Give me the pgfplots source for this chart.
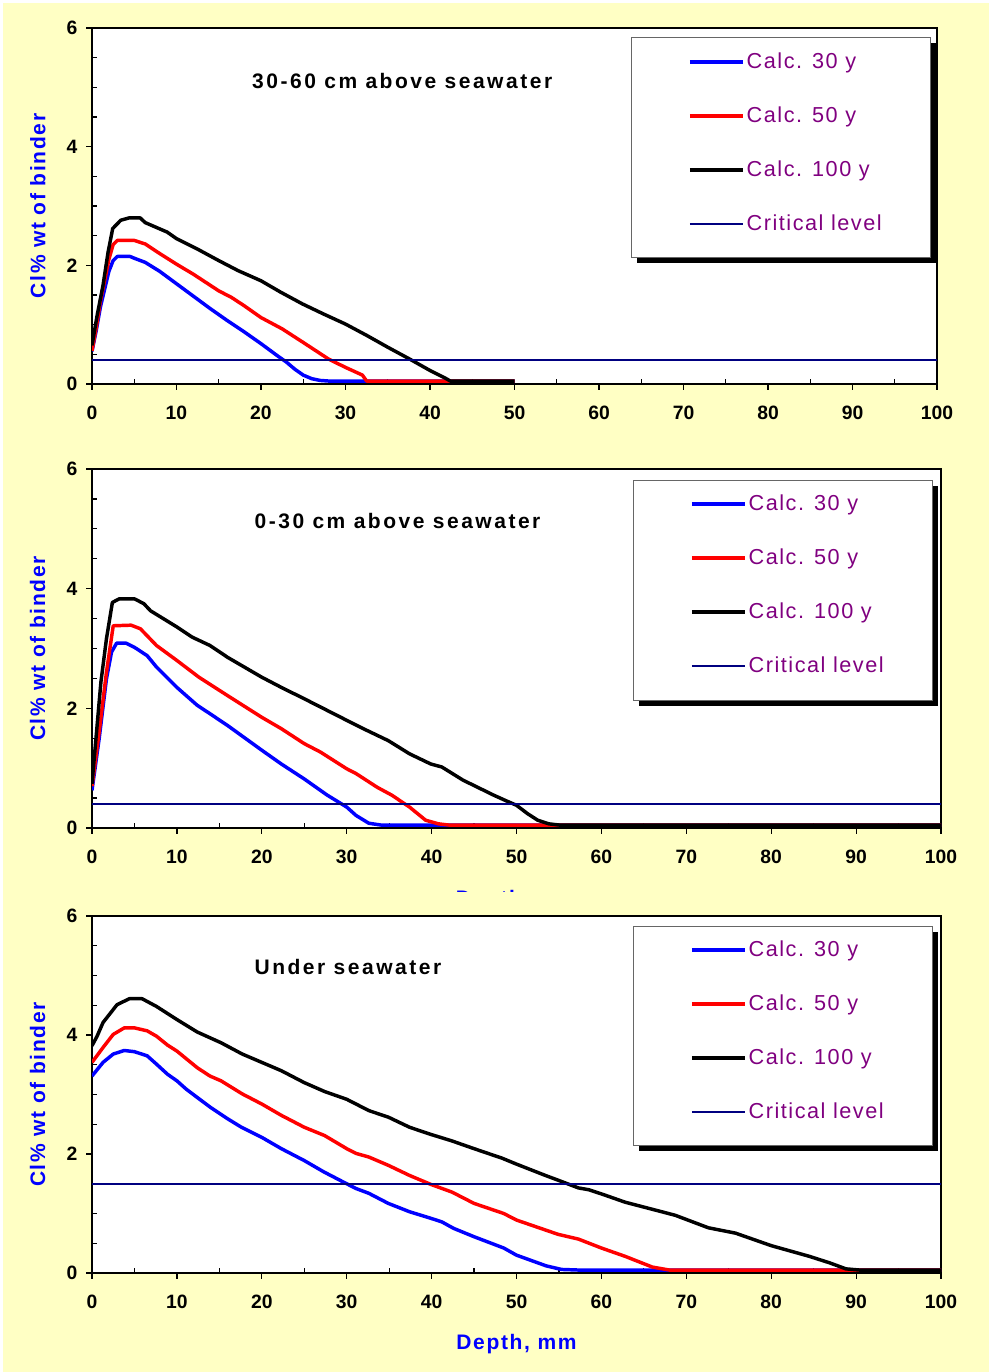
\documentclass[border=0pt]{standalone}
\usepackage{fontspec}
\setmainfont{Liberation Sans}
\usepackage{pgfplots}
\pgfplotsset{compat=1.18}
\definecolor{bgyellow}{RGB}{255,255,196}
\definecolor{critnavy}{RGB}{0,0,128}
\definecolor{legpurple}{RGB}{128,0,128}
\newcommand{\tickfont}{\bfseries\fontsize{14.5}{14.5}\selectfont}
\newcommand{\titlefont}{\bfseries\fontsize{15.75}{16}\selectfont\addfontfeature{LetterSpace=12}}
\newcommand{\labfont}{\bfseries\fontsize{15.75}{16}\selectfont\addfontfeature{LetterSpace=8}}
\newcommand{\legfont}{\fontsize{16.25}{16.25}\selectfont\addfontfeature{LetterSpace=7}}
% legend frame with black shadow: offsets (pt) from the axis' top-left corner
\newcommand{\legbox}[4]{%
  \fill[black] ([xshift=#1+4.5pt, yshift=-#2-4.5pt]rel axis cs:0,1) rectangle ([xshift=#3+4.5pt, yshift=-#4-4.5pt]rel axis cs:0,1);
  \filldraw[draw=black!60, fill=white, line width=0.75pt] ([xshift=#1, yshift=-#2]rel axis cs:0,1) rectangle ([xshift=#3, yshift=-#4]rel axis cs:0,1);}
\pgfplotsset{
  panel/.style={
    scale only axis,
    xmin=0, xmax=100, ymin=0, ymax=6,
    xtick={0,10,...,100}, ytick={0,2,4,6},
    minor x tick num=1, minor y tick num=3,
    xtick pos=left, ytick pos=left,
    tick align=inside, major tick length=-4.5pt, minor tick length=3.5pt,
    tick style={black, line width=0.9pt},
    axis line style={line width=1.2pt},
    axis background/.style={fill=white},
    /pgf/number format/assume math mode=true,
    ticklabel style={font=\tickfont},
    xticklabel style={yshift=-13pt},
    yticklabel style={xshift=-7.5pt},
    ylabel={Cl\% wt of binder},
    ylabel style={font=\labfont, color=blue, at={(axis description cs:-0.064,0.5)}, anchor=center},
    legend style={anchor=north west, draw=none, fill=none,
      font=\legfont, text=legpurple,
      inner sep=0pt, row sep=25pt, column sep=1.5pt,
      nodes={text height=12pt, text depth=3.5pt, inner sep=0pt}},
    legend cell align=left,
    legend image code/.code={\draw[##1, line cap=butt] (0pt,1pt) -- (39.75pt,1pt);},
    every axis plot/.append style={line join=round, no markers},
  },
  c30/.style={blue, line width=2.6pt},
  c50/.style={red, line width=2.6pt},
  c100/.style={black, line width=2.6pt},
  crit/.style={critnavy, line width=1.2pt},
}
\begin{document}
\begin{tikzpicture}
\fill[bgyellow] (0,0) rectangle (741.75pt,-1029pt);
\fill[white] (0,0) rectangle (2.25pt,-1029pt);
\fill[white] (0,0) rectangle (741.75pt,-2.25pt);

% ---------------- Panel 1 ----------------
\begin{axis}[panel, at={(69pt,-288pt)}, anchor=south west, width=633.75pt, height=267pt,
  legend style={at={(axis description cs:0.7053,0.931)}}]
\addplot[c30] coordinates {(0,0.55)(0.5,0.9)(1,1.3)(1.5,1.6)(2,1.9)(2.5,2.08)(3,2.15)(4.5,2.15)(5,2.12)(6.3,2.05)(8,1.9)(10,1.69)(12,1.48)(14,1.27)(16,1.07)(18,0.88)(20,0.68)(22,0.47)(23,0.37)(24,0.25)(25,0.15)(26,0.09)(27,0.06)(28,0.05)(50,0.05)};
\addlegendentry{Calc. 30 y}
\addplot[c50] coordinates {(0,0.56)(0.5,0.95)(1,1.4)(1.5,1.75)(2,2.1)(2.5,2.35)(3,2.42)(5,2.42)(6.3,2.36)(8,2.2)(10,2.02)(12,1.85)(15,1.57)(16.5,1.46)(18,1.32)(20,1.12)(22.5,0.93)(25,0.70)(28,0.42)(30,0.28)(32,0.15)(32.5,0.05)(50,0.05)};
\addlegendentry{Calc. 50 y}
\addplot[c100] coordinates {(0,0.65)(0.6,1.15)(1.3,1.66)(1.9,2.22)(2.45,2.62)(3.4,2.76)(4.4,2.8)(5.7,2.8)(6.3,2.72)(8.9,2.56)(10,2.45)(12.4,2.28)(15,2.08)(17.3,1.91)(20,1.74)(22.3,1.55)(24.9,1.35)(27.4,1.18)(30,1.01)(32.5,0.82)(35,0.62)(37.6,0.42)(40.1,0.22)(41.8,0.1)(42.4,0.05)(50,0.05)};
\addlegendentry{Calc. 100 y}
\addplot[crit] coordinates {(0,0.4)(100,0.4)};
\addlegendentry{Critical level}
\legbox{404.25pt}{6.75pt}{628.5pt}{171.75pt}
\node[anchor=west, font=\titlefont] at (axis cs:18.4,5.1) {30-60 cm above seawater};
\end{axis}

% fragment of the cut-off x label of panel 2
\begin{scope}
\clip (0pt,-655pt) rectangle (741.75pt,-668.25pt);
\node[font=\labfont, text=blue] at (387pt,-675.4pt) {Depth, mm};
\end{scope}

% ---------------- Panel 2 ----------------
\begin{axis}[panel, at={(69pt,-621pt)}, anchor=south west, width=636.75pt, height=269.25pt,
  legend style={at={(axis description cs:0.7043,0.9287)}}]
\addplot[c30] coordinates {(0,0.63)(0.84,1.49)(1.7,2.49)(2.3,2.94)(2.9,3.09)(4,3.09)(5,3.02)(6.5,2.88)(7.6,2.69)(10,2.35)(12.4,2.05)(13.9,1.91)(16,1.71)(20,1.30)(22.3,1.07)(25,0.82)(27.7,0.55)(30,0.35)(31.1,0.21)(32.6,0.08)(34,0.05)(100,0.05)};
\addlegendentry{Calc. 30 y}
\addplot[c50] coordinates {(0,0.7)(0.84,1.6)(1.7,2.6)(2.5,3.38)(4.6,3.39)(5.7,3.33)(7.6,3.05)(10,2.8)(12.6,2.52)(16,2.21)(20,1.85)(22.3,1.66)(25,1.41)(26.9,1.27)(30,0.99)(31.1,0.91)(33.6,0.68)(35.3,0.55)(37.4,0.35)(39.3,0.13)(40.8,0.07)(42,0.05)(100,0.05)};
\addlegendentry{Calc. 50 y}
\addplot[c100] coordinates {(0,0.74)(1.05,2.44)(1.7,3.16)(2.4,3.77)(3.2,3.83)(5,3.83)(6.1,3.75)(6.9,3.63)(10,3.36)(11.8,3.19)(13.9,3.05)(16,2.85)(20,2.52)(22.3,2.35)(25,2.16)(30,1.80)(32.4,1.63)(34.9,1.46)(37.4,1.24)(39.9,1.07)(41.2,1.02)(43.7,0.80)(47.3,0.55)(48.7,0.46)(50,0.38)(51.3,0.24)(52.5,0.13)(53.8,0.07)(55,0.05)(100,0.05)};
\addlegendentry{Calc. 100 y}
\addplot[crit] coordinates {(0,0.4)(100,0.4)};
\addlegendentry{Critical level}
\legbox{405.75pt}{8.25pt}{630pt}{173.25pt}
\node[anchor=west, font=\titlefont] at (axis cs:18.6,5.13) {0-30 cm above seawater};
\end{axis}

% ---------------- Panel 3 ----------------
\begin{axis}[panel, at={(69pt,-954.75pt)}, anchor=south west, width=636.75pt, height=267.75pt,
  legend style={at={(axis description cs:0.7043,0.931)}},
  xlabel={Depth, mm},
  xlabel style={font=\labfont, color=blue, at={(axis description cs:0.5,-0.2)}, anchor=center}]
\addplot[c30] coordinates {(0,3.31)(1.3,3.54)(2.5,3.68)(3.8,3.74)(5,3.72)(6.5,3.65)(7.6,3.51)(8.9,3.34)(10,3.23)(11.1,3.09)(12.4,2.95)(13.9,2.79)(16,2.59)(17.6,2.45)(20,2.28)(22.3,2.09)(25,1.89)(27.3,1.70)(30,1.50)(31.1,1.42)(32.6,1.34)(34.9,1.17)(37.4,1.03)(39.9,0.92)(41.2,0.86)(42.6,0.75)(45,0.61)(48.5,0.42)(50,0.30)(53.5,0.12)(55.3,0.06)(57.3,0.05)(100,0.05)};
\addlegendentry{Calc. 30 y}
\addplot[c50] coordinates {(0,3.54)(1.3,3.79)(2.5,4.01)(3.8,4.12)(5,4.12)(6.5,4.07)(7.6,3.98)(8.9,3.83)(10,3.73)(12.4,3.45)(13.9,3.31)(15.2,3.23)(17.7,3.01)(20,2.84)(22.3,2.65)(25,2.45)(27.4,2.31)(30,2.09)(31.1,2.01)(32.6,1.95)(34.9,1.81)(37.4,1.64)(39.9,1.49)(42.4,1.36)(45,1.17)(48.5,1.0)(50,0.89)(54.9,0.65)(57.3,0.57)(60,0.42)(62.8,0.28)(66,0.10)(68,0.05)(100,0.05)};
\addlegendentry{Calc. 50 y}
\addplot[c100] coordinates {(0,3.82)(0.6,3.98)(1.3,4.21)(2.95,4.51)(4.4,4.61)(5.9,4.61)(7.6,4.48)(10,4.26)(12.4,4.05)(15.2,3.87)(17.7,3.68)(20,3.54)(22.3,3.40)(25,3.20)(27.4,3.05)(30,2.92)(31.1,2.84)(32.6,2.73)(34.9,2.62)(37.4,2.45)(39.9,2.33)(42.4,2.22)(45,2.09)(48.3,1.93)(50,1.83)(53.4,1.64)(54.9,1.56)(57.3,1.43)(58.5,1.40)(60,1.33)(62.8,1.19)(67.1,1.03)(68.7,0.97)(72.6,0.76)(75.8,0.67)(80,0.46)(84.5,0.28)(86.9,0.17)(88.8,0.07)(90.4,0.05)(100,0.05)};
\addlegendentry{Calc. 100 y}
\addplot[crit] coordinates {(0,1.5)(100,1.5)};
\addlegendentry{Critical level}
\legbox{405.75pt}{7.5pt}{630pt}{171.75pt}
\node[anchor=west, font=\titlefont] at (axis cs:18.6,5.14) {Under seawater};
\end{axis}

\pgfresetboundingbox
\path[use as bounding box] (0,0) rectangle (741.75pt,-1029pt);
\end{tikzpicture}
\end{document}
